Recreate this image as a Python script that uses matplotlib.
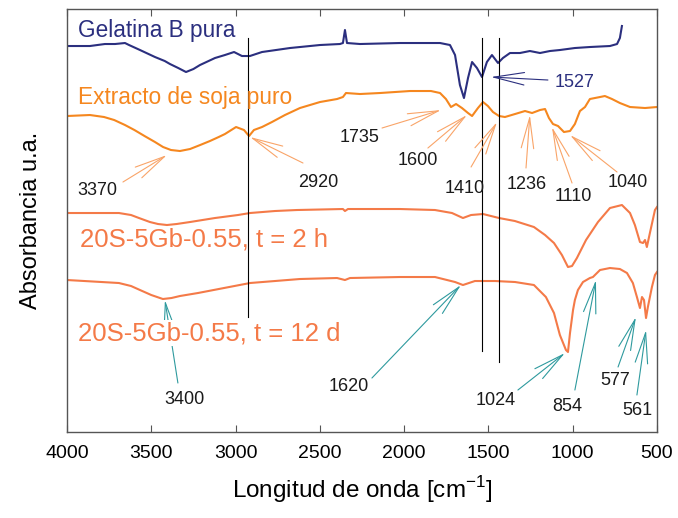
import matplotlib
matplotlib.use('Agg')
import matplotlib.pyplot as plt

plt.rcParams['font.family'] = ['Liberation Sans', 'DejaVu Sans']
plt.rcParams['mathtext.fontset'] = 'custom'
plt.rcParams['mathtext.rm'] = 'Liberation Sans'

# Espectros FTIR (desplazados verticalmente para separarlos)
w_gel = [4000, 3864, 3775, 3715, 3656, 3632, 3567, 3478, 3420, 3389, 3340, 3294, 3250,
         3211, 3122, 3063, 3009, 2962, 2915, 2843, 2677, 2499, 2381, 2363, 2351, 2339,
         2262, 2025, 1787, 1728, 1698, 1669, 1645, 1621, 1597, 1568, 1538, 1509, 1479,
         1443, 1414, 1372, 1313, 1254, 1194, 1135, 1076, 987, 898, 779, 737, 720, 708]
a_gel = [3.86, 3.86, 3.88, 3.88, 3.89, 3.87, 3.82, 3.75, 3.71, 3.68, 3.64, 3.60, 3.63,
         3.67, 3.74, 3.77, 3.80, 3.76, 3.76, 3.80, 3.84, 3.87, 3.88, 3.89, 4.02, 3.89,
         3.88, 3.89, 3.89, 3.87, 3.77, 3.47, 3.34, 3.54, 3.70, 3.64, 3.55, 3.70, 3.77,
         3.69, 3.74, 3.79, 3.79, 3.81, 3.79, 3.81, 3.82, 3.84, 3.85, 3.86, 3.88, 3.94,
         4.06]

w_soja = [4000, 3864, 3780, 3720, 3656, 3600, 3540, 3478, 3430, 3383, 3330, 3270, 3210,
          3152, 3100, 3063, 2997, 2950, 2920, 2891, 2843, 2784, 2707, 2618, 2499, 2398,
          2363, 2345, 2262, 2143, 1965, 1841, 1787, 1752, 1722, 1692, 1657, 1621, 1597,
          1562, 1532, 1503, 1473, 1437, 1402, 1342, 1283, 1241, 1194, 1164, 1141, 1117,
          1087, 1052, 1016, 987, 957, 927, 898, 838, 809, 767, 720, 660, 571, 500]
a_soja = [3.16, 3.17, 3.15, 3.12, 3.07, 3.02, 2.96, 2.90, 2.85, 2.82, 2.81, 2.83, 2.87,
          2.91, 2.95, 2.98, 3.05, 3.02, 2.96, 3.02, 3.05, 3.10, 3.17, 3.24, 3.30, 3.33,
          3.35, 3.39, 3.38, 3.39, 3.41, 3.41, 3.39, 3.33, 3.25, 3.28, 3.24, 3.19, 3.16,
          3.24, 3.30, 3.26, 3.20, 3.16, 3.15, 3.18, 3.21, 3.19, 3.22, 3.23, 3.14, 3.08,
          3.06, 3.00, 3.01, 3.08, 3.21, 3.25, 3.33, 3.35, 3.36, 3.33, 3.29, 3.25, 3.24,
          3.25]

w_2h = [4000, 3692, 3620, 3573, 3508, 3460, 3407, 3350, 3270, 3122, 2986, 2914, 2766,
        2636, 2363, 2351, 2333, 2025, 1817, 1716, 1651, 1603, 1532, 1437, 1343, 1230,
        1164, 1111, 1064, 1028, 1004, 975, 921, 850, 779, 708, 660, 631, 601, 583, 571,
        560, 542, 512, 500]
a_2h = [2.19, 2.19, 2.17, 2.14, 2.10, 2.08, 2.07, 2.08, 2.10, 2.14, 2.17, 2.19, 2.21,
        2.22, 2.23, 2.21, 2.23, 2.23, 2.22, 2.19, 2.14, 2.17, 2.18, 2.14, 2.11, 2.05,
        1.97, 1.89, 1.77, 1.65, 1.66, 1.74, 1.92, 2.10, 2.24, 2.27, 2.19, 2.07, 1.90,
        1.89, 1.92, 1.85, 1.99, 2.22, 2.25]

w_12d = [4000, 3692, 3620, 3567, 3500, 3431, 3380, 3330, 3223, 2914, 2618, 2398, 2351,
         2321, 2025, 1817, 1698, 1651, 1580, 1461, 1342, 1230, 1159, 1111, 1076, 1040,
         1028, 1016, 998, 987, 969, 939, 898, 880, 838, 779, 720, 678, 643, 619, 601,
         589, 577, 565, 554, 530, 512, 500]
a_12d = [1.52, 1.49, 1.46, 1.42, 1.37, 1.33, 1.34, 1.36, 1.39, 1.49, 1.53, 1.54, 1.52,
         1.54, 1.55, 1.55, 1.50, 1.47, 1.51, 1.51, 1.50, 1.47, 1.35, 1.19, 0.97, 0.82,
         0.80, 0.99, 1.22, 1.32, 1.42, 1.50, 1.54, 1.55, 1.62, 1.64, 1.63, 1.59, 1.49,
         1.35, 1.24, 1.35, 1.32, 1.14, 1.25, 1.45, 1.57, 1.60]

# Líneas verticales de referencia: (posición, y_inicio, y_fin)
lineas_ref = [(2926, 1.15, 3.94), (1538, 0.81, 3.94), (1437, 0.70, 3.94)]

# Etiquetas de bandas: texto, (x, y) del texto, cola de la flecha, punta de la flecha
bandas_soja = [
    ('3370', (3822, 2.42), (3668, 2.50), (3407, 2.77)),
    ('2920', (2511, 2.50), (2600, 2.69), (2914, 2.95)),
    ('1735', (2262, 2.95), (2131, 3.04), (1781, 3.22)),
    ('1600', (1918, 2.72), (1859, 2.84), (1627, 3.17)),
    ('1410', (1639, 2.44), (1603, 2.65), (1449, 3.10)),
    ('1236', (1271, 2.48), (1277, 2.64), (1254, 3.17)),
    ('1110', (998, 2.36), (1004, 2.49), (1123, 3.05)),
    ('1040', (672, 2.50), (737, 2.60), (1016, 2.97)),
]
bandas_gel = [
    ('1527', (987, 3.50), (1147, 3.52), (1485, 3.55)),
]
bandas_12d = [
    ('3400', (3306, 0.33), (3342, 0.49), (3419, 1.32)),
    ('1620', (2327, 0.46), (2191, 0.54), (1663, 1.47)),
    ('1024', (1455, 0.32), (1325, 0.42), (1046, 0.79)),
    ('854', (1034, 0.26), (987, 0.42), (862, 1.52)),
    ('577', (749, 0.52), (731, 0.65), (625, 1.15)),
    ('561', (619, 0.22), (619, 0.37), (565, 1.02)),
]

c_gel = '#2b2f7f'
c_soja = '#f5871f'
c_mezcla = '#f47a48'

fig = plt.figure(figsize=(6.78, 5.18), dpi=100)
ax = fig.add_axes([0.0988, 0.166, 0.8702, 0.8166])

ax.plot(w_gel, a_gel, color=c_gel, lw=1.5)
ax.plot(w_soja, a_soja, color=c_soja, lw=1.5)
ax.plot(w_2h, a_2h, color=c_mezcla, lw=1.5)
ax.plot(w_12d, a_12d, color=c_mezcla, lw=1.5)

for x, y0, y1 in lineas_ref:
    ax.plot([x, x], [y0, y1], color='black', lw=0.8)

ax.text(3935, 4.02, 'Gelatina B pura', color=c_gel, fontsize=16.3, va='center')
ax.text(3935, 3.35, 'Extracto de soja puro', color=c_soja, fontsize=16.3, va='center')
ax.text(3920, 1.93, '20S-5Gb-0.55, t = 2 h', color=c_mezcla, fontsize=18.5, va='center')
ax.text(3935, 0.99, '20S-5Gb-0.55, t = 12 d', color=c_mezcla, fontsize=18.5, va='center',
        bbox=dict(fc='white', ec='none', pad=1), zorder=5)


def flechas(bandas, color_txt, color_flecha):
    for txt, pos, cola, punta in bandas:
        ax.text(pos[0], pos[1], txt, color=color_txt, fontsize=13,
                ha='center', va='center')
        ax.annotate('', xy=punta, xytext=cola,
                    arrowprops=dict(arrowstyle='->,head_length=2.2,head_width=0.45',
                                    color=color_flecha, lw=0.8, mutation_scale=10,
                                    shrinkA=0, shrinkB=0))


flechas(bandas_soja, '#1a1a1a', '#f9a468')
flechas(bandas_gel, c_gel, c_gel)
flechas(bandas_12d, '#1a1a1a', '#2e9a9e')

ax.set_xlim(4000, 500)
ax.set_ylim(0, 4.23)
ax.set_xticks([4000, 3500, 3000, 2500, 2000, 1500, 1000, 500])
ax.set_yticks([])
ax.tick_params(axis='x', direction='in', top=True, length=5, labelsize=14, pad=9,
               color='#555555')
for s in ax.spines.values():
    s.set_color('#555555')
    s.set_linewidth(1.0)

ax.set_xlabel(r'Longitud de onda [cm$^{\mathrm{-1}}$]', fontsize=17.5, labelpad=9)
ax.set_ylabel('Absorbancia u.a.', fontsize=17, labelpad=18)

plt.savefig('out.png', dpi=100)
